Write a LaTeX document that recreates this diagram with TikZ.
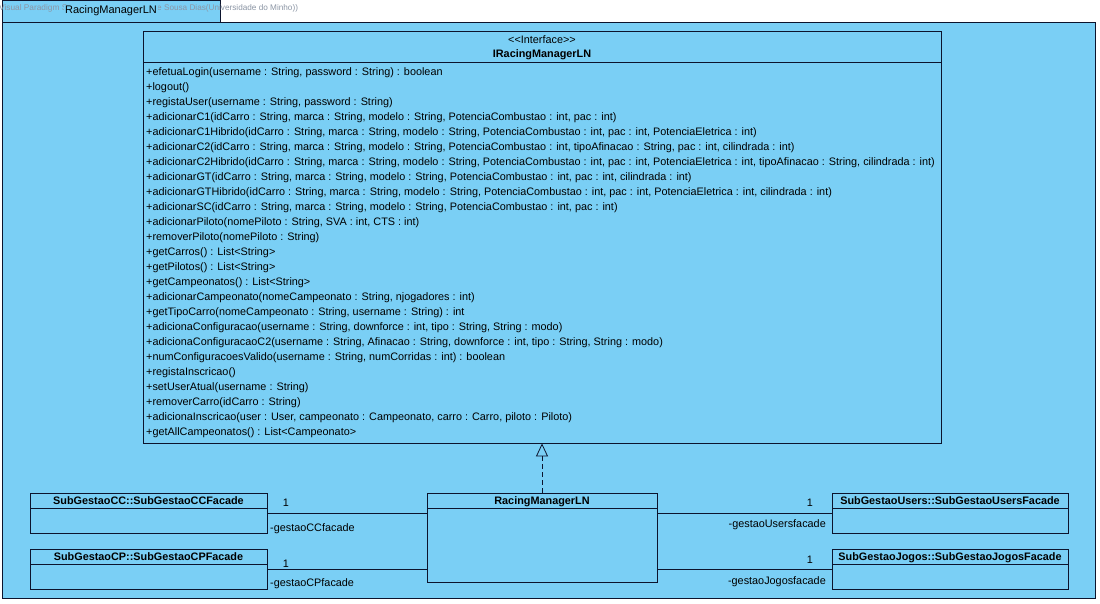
\documentclass[tikz,border=0pt]{standalone}
\usepackage{fontspec}
\setmainfont{Liberation Sans}
\usetikzlibrary{arrows.meta}
\definecolor{pkg}{RGB}{122,207,245}
\definecolor{edge}{RGB}{12,20,45}
\definecolor{wm}{RGB}{140,150,165}
\tikzset{
  box/.style={draw=edge, fill=pkg, line width=0.8pt, inner sep=0pt},
  mtxt/.style={font=\fontsize{10.85}{12}\selectfont, inner sep=0pt, anchor=base west},
  ttl/.style={font=\fontsize{10.85}{12}\selectfont\bfseries, inner sep=0pt, anchor=base},
  lbl/.style={font=\fontsize{10.85}{12}\selectfont, inner sep=0pt, anchor=base},
  assoc/.style={draw=edge, line width=0.8pt},
}
\begin{document}
\begin{tikzpicture}[x=1pt,y=-1pt]
\useasboundingbox (0,0) rectangle (1100,603);
\fill[white] (0,0) rectangle (1100,603);
% package frame
\draw[box] (2,0) rectangle (220,22);
\draw[box] (2,22) rectangle (1095,598);
\node[font=\fontsize{8.3}{9}\selectfont, text=wm, inner sep=0pt, anchor=base west] (wm1) at (-1,10) {Visual Paradigm S};
\node[font=\fontsize{8.2}{9}\selectfont, text=wm, inner sep=0pt, anchor=base west] (wm2) at (157,10) {e Sousa Dias(Universidade do Minho))};
\node[font=\fontsize{11}{13}\selectfont, fill=pkg, inner sep=1pt] (tab) at (111,11) {RacingManagerLN};
% interface
\node[box, minimum width=798pt, minimum height=412pt] (iface) at (542,237) {};
\draw[edge, line width=0.8pt] (143,62) -- (941,62);
\node[lbl] (stereo) at (542,43) {<\kern0pt<Interface>\kern0pt>};
\node[ttl] (iname) at (542,57) {IRacingManagerLN};
\foreach \m [count=\i from 0] in {
{+efetuaLogin(username : String, password : String) : boolean},
{+logout()},
{+registaUser(username : String, password : String)},
{+adicionarC1(idCarro : String, marca : String, modelo : String, PotenciaCombustao : int, pac : int)},
{+adicionarC1Hibrido(idCarro : String, marca : String, modelo : String, PotenciaCombustao : int, pac : int, PotenciaEletrica : int)},
{+adicionarC2(idCarro : String, marca : String, modelo : String, PotenciaCombustao : int, tipoAfinacao : String, pac : int, cilindrada : int)},
{+adicionarC2Hibrido(idCarro : String, marca : String, modelo : String, PotenciaCombustao : int, pac : int, PotenciaEletrica : int, tipoAfinacao : String, cilindrada : int)},
{+adicionarGT(idCarro : String, marca : String, modelo : String, PotenciaCombustao : int, pac : int, cilindrada : int)},
{+adicionarGTHibrido(idCarro : String, marca : String, modelo : String, PotenciaCombustao : int, pac : int, PotenciaEletrica : int, cilindrada : int)},
{+adicionarSC(idCarro : String, marca : String, modelo : String, PotenciaCombustao : int, pac : int)},
{+adicionarPiloto(nomePiloto : String, SVA : int, CTS : int)},
{+removerPiloto(nomePiloto : String)},
{+getCarros() : List<String>},
{+getPilotos() : List<String>},
{+getCampeonatos() : List<String>},
{+adicionarCampeonato(nomeCampeonato : String, njogadores : int)},
{+getTipoCarro(nomeCampeonato : String, username : String) : int},
{+adicionaConfiguracao(username : String, downforce : int, tipo : String, String : modo)},
{+adicionaConfiguracaoC2(username : String, Afinacao : String, downforce : int, tipo : String, String : modo)},
{+numConfiguracoesValido(username : String, numCorridas : int) : boolean},
{+registaInscricao()},
{+setUserAtual(username : String)},
{+removerCarro(idCarro : String)},
{+adicionaInscricao(user : User, campeonato : Campeonato, carro : Carro, piloto : Piloto)},
{+getAllCampeonatos() : List<Campeonato>}}
{\node[mtxt] (m\i) at (146,{75+15*\i}) {\m};}
% classes
\node[box, minimum width=237pt, minimum height=40pt] (cc) at (148.5,513) {};
\draw[edge, line width=0.8pt] (30,508) -- (267,508);
\node[ttl] (ccn) at (148.5,504) {SubGestaoCC::SubGestaoCCFacade};
\node[box, minimum width=237pt, minimum height=40pt] (cp) at (148.5,569) {};
\draw[edge, line width=0.8pt] (30,564) -- (267,564);
\node[ttl] (cpn) at (148.5,560) {SubGestaoCP::SubGestaoCPFacade};
\node[box, minimum width=230pt, minimum height=89pt] (rm) at (542,537.5) {};
\draw[edge, line width=0.8pt] (427,508) -- (657,508);
\node[ttl] (rmn) at (542,504) {RacingManagerLN};
\node[box, minimum width=236pt, minimum height=40pt] (us) at (950,513) {};
\draw[edge, line width=0.8pt] (832,508) -- (1068,508);
\node[ttl] (usn) at (950,504) {SubGestaoUsers::SubGestaoUsersFacade};
\node[box, minimum width=236pt, minimum height=40pt] (jg) at (950,569) {};
\draw[edge, line width=0.8pt] (832,564) -- (1068,564);
\node[ttl] (jgn) at (950,560) {SubGestaoJogos::SubGestaoJogosFacade};
% realization
\draw[edge, line width=0.8pt, dash pattern=on 5pt off 3pt, -{Triangle[open, length=13pt, width=12pt]}] (rm.north) -- (iface.south);
% associations
\draw[assoc] (cc.east) -- (cc.east -| rm.west);
\node[lbl] (c1) at (286,506) {1};
\node[lbl, anchor=base west] (c2) at (270,531) {-gestaoCCfacade};
\draw[assoc] (cp.east) -- (cp.east -| rm.west);
\node[lbl] (p1) at (286,567) {1};
\node[lbl, anchor=base west] (p2) at (270,586) {-gestaoCPfacade};
\draw[assoc] (us.west) -- (us.west -| rm.east);
\node[lbl] (u1) at (810,506) {1};
\node[lbl, anchor=base east] (u2) at (826,527) {-gestaoUsersfacade};
\draw[assoc] (jg.west) -- (jg.west -| rm.east);
\node[lbl] (j1) at (810,563) {1};
\node[lbl, anchor=base east] (j2) at (826,584) {-gestaoJogosfacade};
\end{tikzpicture}
\end{document}
